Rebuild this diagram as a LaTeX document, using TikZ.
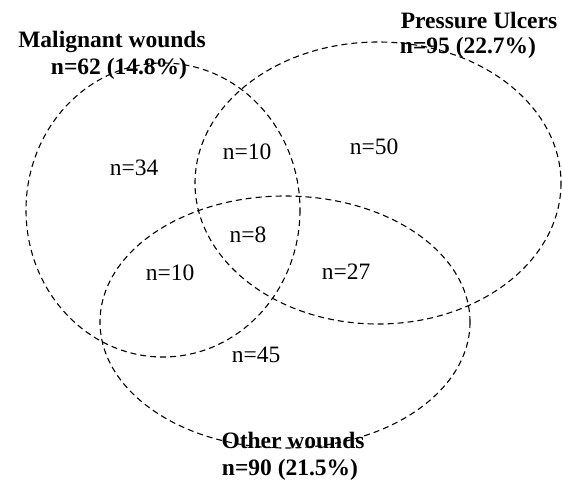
\documentclass[tikz,border=0pt]{standalone}
\usepackage{fontspec}
\setmainfont{Liberation Serif}
\begin{document}
\begin{tikzpicture}[x=1pt,y=-1pt,
  setline/.style={draw=black,line width=1.1pt,dash pattern=on 6pt off 4pt},
  title/.style={font=\fontsize{23.5}{25}\selectfont\bfseries,inner sep=0pt,anchor=base},
  cnt/.style={font=\fontsize{23.5}{25}\selectfont,inner sep=0pt}]
\useasboundingbox (0,0) rectangle (562,480);
\draw[setline] (163,210) ellipse [x radius=137, y radius=147];
\draw[setline] (378,183) ellipse [x radius=183, y radius=141];
\draw[setline] (285,322) ellipse [x radius=185, y radius=126];
\node[title] (mt) at (112,47) {Malignant wounds};
\node[title] (mn) at (119,74) {n=62 (14.8\%)};
\node[title] (pt) at (479,28) {Pressure Ulcers};
\node[title] (pn) at (468,53) {n=95 (22.7\%)};
\node[title] (ot) at (293,448) {Other wounds};
\node[title] (on) at (290,475) {n=90 (21.5\%)};
\node[cnt] (a) at (134,168) {n=34};
\node[cnt] (b) at (247,152) {n=10};
\node[cnt] (c) at (374,147) {n=50};
\node[cnt] (d) at (248,235) {n=8};
\node[cnt] (e) at (170,273) {n=10};
\node[cnt] (f) at (346,272) {n=27};
\node[cnt] (g) at (256,355) {n=45};
\end{tikzpicture}
\end{document}
